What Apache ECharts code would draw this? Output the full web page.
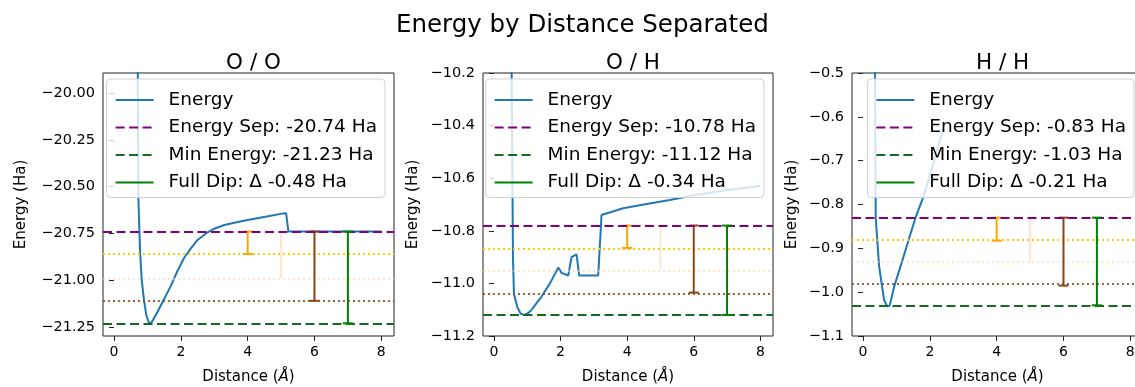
<!DOCTYPE html>
<html><head><meta charset="utf-8">
<script src="https://cdn.jsdelivr.net/npm/echarts@6/dist/echarts.min.js"></script>
<style>html,body{margin:0;padding:0;background:#fff}#c{width:1135px;height:387px}</style>
</head><body><div id="c"></div>
<script>
const suptitle = 'Energy by Distance Separated';
const panelTitles = ['O / O', 'O / H', 'H / H'];

const distOO = [0.6, 0.7, 0.73, 0.78, 0.83, 0.9, 0.97, 1.05, 1.13, 1.3, 1.5, 1.7, 1.9, 2.1, 2.3, 2.5, 2.75, 3.0, 3.3, 3.6, 4.0, 4.57, 5.07, 5.15, 5.22, 6.0, 7.0, 8.0];
const energyOO = [-15.0, -19.5, -20.57, -20.85, -21.0, -21.11, -21.19, -21.23, -21.225, -21.17, -21.10, -21.03, -20.95, -20.88, -20.83, -20.785, -20.75, -20.725, -20.705, -20.693, -20.678, -20.66, -20.643, -20.642, -20.74, -20.74, -20.74, -20.74];

const distOH = [0.45, 0.53, 0.57, 0.6, 0.7, 0.8, 0.9, 1.0, 1.1, 1.25, 1.43, 1.68, 1.93, 2.03, 2.23, 2.33, 2.48, 2.56, 3.13, 3.23, 3.88, 4.5, 5.28, 6.0, 7.0, 8.0];
const energyOH = [-7.0, -10.2, -10.9, -11.04, -11.09, -11.115, -11.12, -11.115, -11.105, -11.08, -11.05, -11.0, -10.94, -10.96, -10.97, -10.9, -10.89, -10.97, -10.97, -10.74, -10.714, -10.70, -10.683, -10.665, -10.645, -10.63];

const distHH = [0.3, 0.36, 0.38, 0.48, 0.63, 0.73, 0.8, 0.93, 1.18, 1.38, 1.58, 1.77, 1.98, 2.2, 2.4];
const energyHH = [1.0, -0.5, -0.83, -0.94, -1.018, -1.033, -1.03, -0.988, -0.927, -0.877, -0.828, -0.79, -0.74, -0.68, -0.63];

const energySep = [-20.74, -10.78, -0.83];
const minEnergy = [-21.23, -11.12, -1.03];
const fullDip = [-0.48, -0.34, -0.21];
const quarterLevel = [-20.86, -10.865, -0.8825];
const halfLevel = [-20.99, -10.945, -0.933];
const threeQuarterLevel = [-21.11, -11.035, -0.985];
const barX = [4, 5, 6, 7];

const yMin = [-21.298, -11.2, -1.1];
const yMax = [-19.893, -10.2, -0.5];
const yTicks = [
  [-21.25, -21.0, -20.75, -20.5, -20.25, -20.0],
  [-11.2, -11.0, -10.8, -10.6, -10.4, -10.2],
  [-1.1, -1.0, -0.9, -0.8, -0.7, -0.6, -0.5]
];
const yTickLabels = [
  ['\u221221.25', '\u221221.00', '\u221220.75', '\u221220.50', '\u221220.25', '\u221220.00'],
  ['\u221211.2', '\u221211.0', '\u221210.8', '\u221210.6', '\u221210.4', '\u221210.2'],
  ['\u22121.1', '\u22121.0', '\u22120.9', '\u22120.8', '\u22120.7', '\u22120.6', '\u22120.5']
];
const xTicks = [0, 2, 4, 6, 8];
const xTickLabels = ['0', '2', '4', '6', '8'];

const FONT = 'DejaVu Sans';
const W = 1135, H = 387;
const gridBoxes = [[103, 394], [483, 773], [852, 1143]];
const gridTop = 73, gridBottom = 336;
const nameGaps = [74, 62, 52];

const C = {
  energy: '#1f77b4', sep: '#800080', min: '#156b1f', dip: '#008000',
  q1: '#ffa500', q1line: '#ffcc00', q2: 'rgba(250,210,170,0.55)', q3: '#8b4513', q3line: 'rgba(139,69,19,0.85)'
};

function pairs(xs, ys) { return xs.map((x, i) => [x, ys[i]]); }
const energyData = [pairs(distOO, energyOO), pairs(distOH, energyOH), pairs(distHH, energyHH)];

const grid = [], xAxis = [], yAxis = [], series = [], legend = [], title = [];
title.push({ text: suptitle, left: 391, top: 8, textStyle: { fontFamily: FONT, fontSize: 24.5, fontWeight: 'normal', color: '#000' } });

for (let i = 0; i < 3; i++) {
  const [l, r] = gridBoxes[i];
  grid.push({ left: l, right: W - r, top: gridTop, bottom: H - gridBottom, containLabel: false, outerBoundsMode: 'none',
    show: true, borderColor: '#222', borderWidth: 1, backgroundColor: 'transparent' });
  title.push({ text: panelTitles[i], left: (l + r) / 2, textAlign: 'center', top: 47, textStyle: { fontFamily: FONT, fontSize: 21.5, fontWeight: 'normal', color: '#000' } });
  xAxis.push({
    type: 'value', gridIndex: i, min: -0.33, max: 8.38,
    name: 'Distance ({i|\u00c5})', nameLocation: 'middle', nameGap: 34,
    nameTextStyle: { fontFamily: FONT, fontSize: 15, color: '#000', rich: { i: { fontFamily: FONT, fontSize: 15, fontStyle: 'italic', color: '#000' } } },
    axisLine: { show: false }, splitLine: { show: false },
    axisTick: { show: true, inside: false, length: 5, lineStyle: { color: '#222' }, customValues: xTicks },
    axisLabel: { fontFamily: FONT, fontSize: 14, color: '#000', margin: 9, customValues: xTicks,
      formatter: v => { const k = xTicks.findIndex(t => Math.abs(t - v) < 1e-6); return k >= 0 ? xTickLabels[k] : ''; } }
  });
  yAxis.push({
    type: 'value', gridIndex: i, min: yMin[i], max: yMax[i],
    name: 'Energy (Ha)', nameLocation: 'middle', nameGap: nameGaps[i],
    nameTextStyle: { fontFamily: FONT, fontSize: 15, color: '#000' },
    axisLine: { show: false }, splitLine: { show: false },
    axisTick: { show: true, inside: false, length: 5, lineStyle: { color: '#222' }, customValues: yTicks[i] },
    axisLabel: { fontFamily: FONT, fontSize: 14.5, color: '#000', margin: 8, customValues: yTicks[i],
      formatter: v => { const k = yTicks[i].findIndex(t => Math.abs(t - v) < 1e-6); return k >= 0 ? yTickLabels[i][k] : ''; } }
  });

  const sepName = 'Energy Sep: ' + energySep[i].toFixed(2) + ' Ha';
  const minName = 'Min Energy: ' + minEnergy[i].toFixed(2) + ' Ha';
  const dipName = 'Full Dip: \u0394 ' + fullDip[i].toFixed(2) + ' Ha';
  const base = { xAxisIndex: i, yAxisIndex: i, type: 'line', symbol: 'none', animation: false, clip: true };
  const hline = (v, color, type, width, z) => ({ symbol: 'none', silent: true, animation: false, label: { show: false }, z: z || 5,
    lineStyle: { color, type, width }, emphasis: { disabled: true }, data: [{ yAxis: v }] });

  series.push(Object.assign({}, base, { name: 'Energy', data: energyData[i], z: 3,
    itemStyle: { color: C.energy }, lineStyle: { color: C.energy, width: 2 } }));
  series.push(Object.assign({}, base, { name: 'q1_' + i, data: [[barX[0], energySep[i]], [barX[0], quarterLevel[i]]], z: 4,
    symbol: 'rect', symbolSize: [10, 2], showSymbol: true, itemStyle: { color: C.q1 }, lineStyle: { color: C.q1, width: 2 },
    markLine: hline(quarterLevel[i], C.q1line, [2, 3], 1.8, 4) }));
  series.push(Object.assign({}, base, { name: 'q2_' + i, data: [[barX[1], energySep[i]], [barX[1], halfLevel[i]]], z: 4,
    itemStyle: { color: C.q2 }, lineStyle: { color: C.q2, width: 2 },
    markLine: hline(halfLevel[i], C.q2, [2, 3], 1.8, 4) }));
  series.push(Object.assign({}, base, { name: 'q3_' + i, data: [[barX[2], energySep[i]], [barX[2], threeQuarterLevel[i]]], z: 4,
    symbol: 'rect', symbolSize: [10, 2], showSymbol: true, itemStyle: { color: C.q3 }, lineStyle: { color: C.q3, width: 2 },
    markLine: hline(threeQuarterLevel[i], C.q3line, [2, 3], 1.8, 4) }));
  series.push(Object.assign({}, base, { name: sepName, data: [], itemStyle: { color: C.sep },
    lineStyle: { color: C.sep, width: 2, type: [9, 4.5] }, markLine: hline(energySep[i], C.sep, [9, 4.5], 2, 6) }));
  series.push(Object.assign({}, base, { name: minName, data: [], itemStyle: { color: C.min },
    lineStyle: { color: C.min, width: 2, type: [9, 4.5] }, markLine: hline(minEnergy[i], C.min, [9, 4.5], 2, 6) }));
  series.push(Object.assign({}, base, { name: dipName, data: [[barX[3], energySep[i]], [barX[3], minEnergy[i]]], z: 7,
    itemStyle: { color: C.dip }, lineStyle: { color: C.dip, width: 2 } }));
  series.push(Object.assign({}, base, { name: 'dipcap_' + i, data: [[barX[3], energySep[i]], [barX[3], minEnergy[i]]], z: 7,
    symbol: 'rect', symbolSize: [10, 2], showSymbol: true, itemStyle: { color: C.dip }, lineStyle: { width: 0, opacity: 0 } }));

  legend.push({
    data: ['Energy', sepName, minName, dipName], orient: 'vertical', right: W - (r - 9), top: 79,
    selectedMode: false, itemWidth: 38, itemHeight: 14, itemGap: 7.5,
    itemStyle: { opacity: 0 },
    padding: [11, 8, 5, 8], backgroundColor: 'rgba(255,255,255,0.8)', borderColor: '#d0d0d0', borderWidth: 1, borderRadius: 4,
    textStyle: { fontFamily: FONT, fontSize: 18.5, color: '#000', lineHeight: 20, padding: [0, 0, 0, 10] }
  });
}

const chart = echarts.init(document.getElementById('c'), null, { renderer: 'canvas' });
chart.setOption({ animation: false, backgroundColor: '#fff', title, grid, xAxis, yAxis, series, legend });
</script></body></html>
